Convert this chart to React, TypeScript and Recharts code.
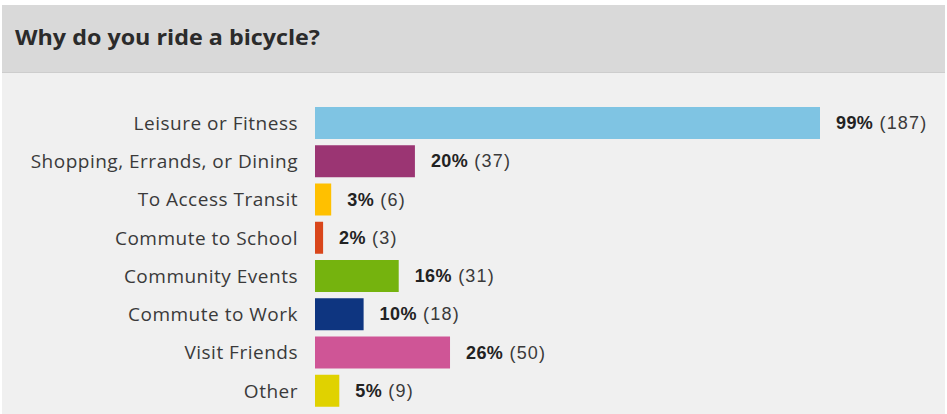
import { BarChart, Bar, XAxis, YAxis, Cell, LabelList } from 'recharts'

const categories = [
  'Leisure or Fitness',
  'Shopping, Errands, or Dining',
  'To Access Transit',
  'Commute to School',
  'Community Events',
  'Commute to Work',
  'Visit Friends',
  'Other',
]
const counts = [187, 37, 6, 3, 31, 18, 50, 9]
const percents = [99, 20, 3, 2, 16, 10, 26, 5]

const palette = ['#7fc4e3', '#9b3573', '#ffc000', '#d9461b', '#75b30e', '#0e3580', '#cf5596', '#e0d200']

const data = categories.map((name, i) => ({ name, count: counts[i], pct: percents[i] }))

const ValueLabel = (props: any) => {
  const { x, y, width, height, index } = props
  return (
    <text
      x={x + width + 16}
      y={y + height / 2 + 6}
      fontFamily="'Liberation Sans', Arial, sans-serif"
      fontSize={18}
    >
      <tspan fontWeight="bold" fill="#222" letterSpacing={0.4}>{percents[index]}%</tspan>
      <tspan fill="#3a3a3a" letterSpacing={1.2}> ({counts[index]})</tspan>
    </text>
  )
}

export default function App() {
  return (
    <div style={{ position: 'absolute', left: 0, top: 0, width: 947, height: 414, background: '#fff', overflow: 'hidden' }}>
      <div style={{
        position: 'absolute', left: 2, top: 5, width: 943, height: 67,
        background: '#d9d9d9', borderBottom: '1px solid #cdcdcd',
      }}>
        <svg width={943} height={67}>
          <text
            x={13} y={40}
            fontFamily="'Open Sans', sans-serif"
            fontWeight="bold" fontSize={22} fill="#2b2b2b"
            textLength={305} lengthAdjust="spacingAndGlyphs"
          >
            Why do you ride a bicycle?
          </text>
        </svg>
      </div>
      <div style={{ position: 'absolute', left: 2, top: 73, width: 943, height: 341, background: '#f0f0f0' }} />
      <div style={{ position: 'absolute', left: 0, top: 0 }}>
        <BarChart
          width={947}
          height={414}
          data={data}
          layout="vertical"
          margin={{ top: 104, right: 127, bottom: 4, left: 0 }}
          barCategoryGap={6}
        >
          <XAxis type="number" domain={[0, 187]} hide />
          <YAxis
            type="category"
            dataKey="name"
            width={315}
            axisLine={false}
            tickLine={false}
            tickSize={0}
            tickMargin={17}
            interval={0}
            tick={{ fill: '#3a3a3a', fontFamily: "'Open Sans', sans-serif", fontSize: 19, letterSpacing: 0.5 }}
          />
          <Bar dataKey="count" barSize={32} isAnimationActive={false}>
            {data.map((d, i) => (
              <Cell key={d.name} fill={palette[i]} />
            ))}
            <LabelList dataKey="count" content={<ValueLabel />} />
          </Bar>
        </BarChart>
      </div>
    </div>
  )
}
